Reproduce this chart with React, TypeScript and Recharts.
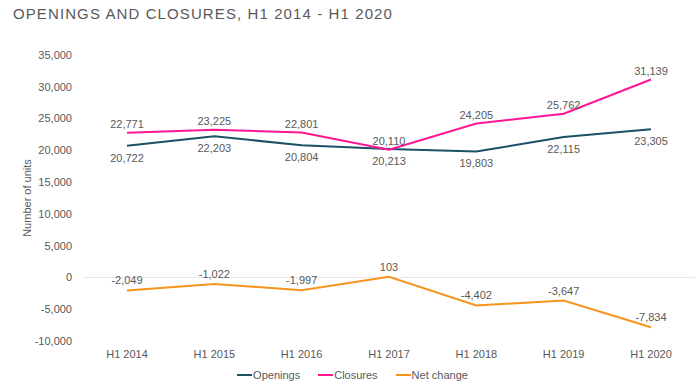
import React from 'react';
import { LineChart, Line, XAxis, YAxis, ReferenceLine, LabelList, Legend } from 'recharts';

const periods = ['H1 2014', 'H1 2015', 'H1 2016', 'H1 2017', 'H1 2018', 'H1 2019', 'H1 2020'];
const openings = [20722, 22203, 20804, 20213, 19803, 22115, 23305];
const closures = [22771, 23225, 22801, 20110, 24205, 25762, 31139];
const netChange = [-2049, -1022, -1997, 103, -4402, -3647, -7834];
const yTicks = [-10000, -5000, 0, 5000, 10000, 15000, 20000, 25000, 30000, 35000];

const TEXT = '#595959';
const FONT = '"Liberation Sans", Arial, Helvetica, sans-serif';

const SERIES = [
  { key: 'openings', name: 'Openings', color: '#1b5167' },
  { key: 'closures', name: 'Closures', color: '#ff1493' },
  { key: 'net', name: 'Net change', color: '#f7941d' },
];

const data = periods.map((p, i) => ({
  period: p,
  openings: openings[i],
  closures: closures[i],
  net: netChange[i],
}));

const fmt = (v: number) => v.toLocaleString('en-US');

function LegendRow() {
  return (
    <div style={{ display: 'flex', justifyContent: 'center', gap: 18, paddingLeft: 10, fontSize: 11, fontFamily: FONT, color: TEXT }}>
      {SERIES.map(s => (
        <div key={s.key} style={{ display: 'flex', alignItems: 'center', gap: 1 }}>
          <span style={{ display: 'inline-block', width: 15, height: 2, background: s.color }} />
          <span>{s.name}</span>
        </div>
      ))}
    </div>
  );
}

export default function App() {
  const labelStyle = { fill: TEXT, fontSize: 11, fontFamily: FONT };
  return (
    <div style={{ position: 'fixed', left: 0, top: 0, width: 700, height: 389, background: '#fff', fontFamily: FONT }}>
      <div
        style={{
          position: 'absolute',
          left: 13,
          top: 5,
          fontSize: 15,
          letterSpacing: 1.1,
          color: TEXT,
          whiteSpace: 'nowrap',
        }}
      >
        OPENINGS AND CLOSURES, H1 2014 - H1 2020
      </div>
      <LineChart width={700} height={389} data={data} margin={{ top: 55, right: 5, bottom: 0, left: 0 }}>
        <ReferenceLine y={0} stroke="#e6e6e6" strokeWidth={1} />
        <XAxis
          dataKey="period"
          axisLine={false}
          tickLine={false}
          tickSize={0}
          tickMargin={9}
          height={28}
          padding={{ left: 44, right: 44 }}
          interval={0}
          tick={{ fill: TEXT, fontSize: 11, fontFamily: FONT }}
        />
        <YAxis
          domain={[-10000, 35000]}
          ticks={yTicks}
          interval={0}
          axisLine={false}
          tickLine={false}
          tickSize={0}
          tickMargin={11}
          width={83}
          tickFormatter={fmt}
          tick={{ fill: TEXT, fontSize: 11, fontFamily: FONT }}
          label={{
            value: 'Number of units',
            angle: -90,
            position: 'insideLeft',
            offset: 27,
            style: { fill: TEXT, fontSize: 11, fontFamily: FONT, textAnchor: 'middle' },
          }}
        />
        <Legend verticalAlign="bottom" height={20} content={() => <LegendRow />} />
        <Line
          type="linear"
          dataKey="openings"
          name="Openings"
          stroke={SERIES[0].color}
          strokeWidth={2}
          dot={false}
          isAnimationActive={false}
        >
          <LabelList dataKey="openings" position="bottom" offset={8} formatter={fmt} style={labelStyle} />
        </Line>
        <Line
          type="linear"
          dataKey="closures"
          name="Closures"
          stroke={SERIES[1].color}
          strokeWidth={2}
          dot={false}
          isAnimationActive={false}
        >
          <LabelList dataKey="closures" position="top" offset={5} formatter={fmt} style={labelStyle} />
        </Line>
        <Line
          type="linear"
          dataKey="net"
          name="Net change"
          stroke={SERIES[2].color}
          strokeWidth={2}
          dot={false}
          isAnimationActive={false}
        >
          <LabelList dataKey="net" position="top" offset={6} formatter={fmt} style={labelStyle} />
        </Line>
      </LineChart>
    </div>
  );
}
